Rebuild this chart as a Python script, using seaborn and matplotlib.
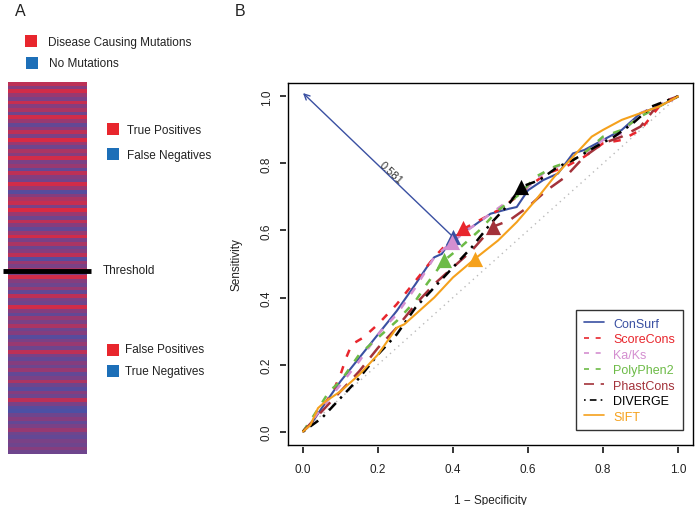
import numpy as np
import pandas as pd
import matplotlib
matplotlib.use("Agg")
import matplotlib.pyplot as plt
import matplotlib.transforms as mtransforms
from matplotlib.colors import LinearSegmentedColormap
from matplotlib.patches import Rectangle
import seaborn as sns

sns.set_theme(style="white")
plt.rcParams['font.family'] = ['Liberation Sans', 'DejaVu Sans']

# ---------------- data ----------------
# Panel A: stripe "redness" (1 = disease causing, 0 = no mutation), top to bottom
stripes_upper = [0.8, 0.5, 0.9, 0.6, 0.4, 0.85, 0.5, 0.7, 0.3, 0.9, 0.6, 0.2, 0.5, 0.8, 0.4,
                 0.95, 0.6, 0.3, 0.7, 0.5, 0.9, 0.4, 0.6, 0.2, 0.8, 0.5, 0.35, 0.9, 0.6, 0.1,
                 0.5, 0.7, 0.85, 0.4, 0.95, 0.6, 0.3, 0.8, 0.5, 0.2, 0.6, 0.9, 0.4, 0.7, 0.3,
                 0.5, 0.8, 0.1, 0.6, 0.4]
stripes_lower = [0.7, 0.4, 0.9, 0.5, 0.3, 0.6, 0.2, 0.8, 0.4, 0.3, 0.9, 0.5, 0.2, 0.6, 0.4,
                 0.7, 0.3, 0.5, 0.1, 0.4, 0.6, 0.3, 0.8, 0.4, 0.2, 0.5, 0.3, 0.6, 0.2, 0.4,
                 0.7, 0.3, 0.1, 0.5, 0.3, 0.8, 0.4, 0.1, 0.0, 0.3, 0.5, 0.2, 0.4, 0.6, 0.3,
                 0.2, 0.4, 0.3, 0.5, 0.3]

# Panel B: ROC curves (1 - specificity, sensitivity)
methods = ["ConSurf", "ScoreCons", "Ka/Ks", "PolyPhen2", "PhastCons", "DIVERGE", "SIFT"]
consurf_x = [0, 0.02, 0.05, 0.10, 0.15, 0.20, 0.25, 0.30, 0.33, 0.35, 0.37, 0.40, 0.45, 0.50, 0.55, 0.57, 0.60, 0.64, 0.68, 0.70, 0.72, 0.75, 0.80, 0.85, 0.90, 0.95, 1.0]
consurf_y = [0, 0.02, 0.07, 0.15, 0.22, 0.29, 0.36, 0.44, 0.49, 0.52, 0.53, 0.58, 0.61, 0.65, 0.665, 0.67, 0.72, 0.75, 0.77, 0.80, 0.83, 0.84, 0.87, 0.90, 0.95, 0.97, 1.0]
scorecons_x = [0, 0.05, 0.08, 0.10, 0.115, 0.13, 0.16, 0.20, 0.25, 0.30, 0.35, 0.40, 0.43, 0.47, 0.52, 0.57, 0.60, 0.65, 0.70, 0.75, 0.80, 0.85, 0.90, 0.95, 1.0]
scorecons_y = [0, 0.07, 0.12, 0.17, 0.22, 0.26, 0.28, 0.32, 0.38, 0.45, 0.52, 0.58, 0.606, 0.63, 0.66, 0.70, 0.73, 0.77, 0.79, 0.82, 0.86, 0.87, 0.90, 0.97, 1.0]
kaks_x = [0, 0.05, 0.10, 0.15, 0.20, 0.25, 0.30, 0.35, 0.398, 0.45, 0.50, 0.55, 0.60, 0.65, 0.70, 0.75, 0.80, 0.85, 0.90, 1.0]
kaks_y = [0, 0.07, 0.14, 0.21, 0.29, 0.35, 0.43, 0.52, 0.566, 0.61, 0.65, 0.69, 0.73, 0.78, 0.80, 0.83, 0.87, 0.89, 0.95, 1.0]
polyphen_x = [0, 0.03, 0.07, 0.10, 0.15, 0.20, 0.25, 0.30, 0.33, 0.377, 0.42, 0.47, 0.52, 0.58, 0.62, 0.67, 0.72, 0.76, 0.80, 0.85, 0.90, 1.0]
polyphen_y = [0, 0.05, 0.12, 0.15, 0.23, 0.28, 0.33, 0.39, 0.44, 0.511, 0.55, 0.60, 0.66, 0.71, 0.76, 0.79, 0.81, 0.84, 0.88, 0.90, 0.94, 1.0]
phast_x = [0, 0.05, 0.10, 0.15, 0.20, 0.25, 0.30, 0.35, 0.40, 0.45, 0.506, 0.55, 0.60, 0.65, 0.70, 0.75, 0.80, 0.85, 0.90, 0.95, 1.0]
phast_y = [0, 0.06, 0.12, 0.18, 0.25, 0.31, 0.38, 0.44, 0.49, 0.54, 0.611, 0.63, 0.67, 0.72, 0.76, 0.82, 0.86, 0.88, 0.91, 0.98, 1.0]
diverge_x = [0, 0.05, 0.10, 0.15, 0.20, 0.25, 0.30, 0.35, 0.40, 0.45, 0.50, 0.55, 0.581, 0.63, 0.68, 0.72, 0.78, 0.83, 0.88, 0.93, 1.0]
diverge_y = [0, 0.04, 0.10, 0.16, 0.23, 0.29, 0.37, 0.43, 0.49, 0.55, 0.62, 0.68, 0.73, 0.75, 0.79, 0.81, 0.85, 0.88, 0.92, 0.97, 1.0]
sift_x = [0, 0.02, 0.04, 0.06, 0.10, 0.15, 0.20, 0.25, 0.27, 0.30, 0.35, 0.40, 0.459, 0.52, 0.57, 0.62, 0.67, 0.72, 0.77, 0.80, 0.85, 0.90, 0.95, 1.0]
sift_y = [0, 0.02, 0.07, 0.09, 0.12, 0.17, 0.23, 0.31, 0.32, 0.35, 0.40, 0.46, 0.516, 0.57, 0.625, 0.69, 0.76, 0.82, 0.88, 0.90, 0.93, 0.95, 0.97, 1.0]

# threshold points (triangles)
thr_x = [0.40, 0.426, 0.398, 0.377, 0.506, 0.581, 0.459]
thr_y = [0.581, 0.606, 0.566, 0.511, 0.611, 0.730, 0.516]

ticks = [0.0, 0.2, 0.4, 0.6, 0.8, 1.0]
tick_labels = ["0.0", "0.2", "0.4", "0.6", "0.8", "1.0"]

curves_x = [consurf_x, scorecons_x, kaks_x, polyphen_x, phast_x, diverge_x, sift_x]
curves_y = [consurf_y, scorecons_y, kaks_y, polyphen_y, phast_y, diverge_y, sift_y]

colors = ["#3a50a2", "#e8262d", "#d48fd0", "#6dbb47", "#a3323a", "#000000", "#f5a11c"]
styles = ["-", (0, (3, 4)), (0, (3, 4)), (0, (3, 4)), (0, (6, 4)), (0, (1, 2.5, 4, 2.5)), "-"]

# ---------------- figure ----------------
W, H = 697, 506
fig = plt.figure(figsize=(W / 100, H / 100), dpi=100)

def fbox(x0, y0, x1, y1):
    return [x0 / W, 1 - y1 / H, (x1 - x0) / W, (y1 - y0) / H]

# Panel A stripe bar via seaborn heatmap
axA = fig.add_axes(fbox(8, 83, 87, 455))
cmap = LinearSegmentedColormap.from_list("rb", ["#4c50a4", "#853d7e", "#e3283c"])
stripes = np.array(stripes_upper + stripes_lower)[:, None]
sns.heatmap(stripes, ax=axA, cmap=cmap, vmin=0, vmax=1, cbar=False,
            xticklabels=False, yticklabels=False)
axA.set_axis_off()

# Panel B ROC
AX_L, AX_T, AX_R, AX_B = 288, 84, 693, 446
ax = fig.add_axes(fbox(AX_L, AX_T, AX_R, AX_B))
ax.plot([0, 1], [0, 1], color="#bbbbbb", linestyle=(0, (1, 3)), linewidth=1)
for m, xs, ys, c, ls in zip(methods, curves_x, curves_y, colors, styles):
    df = pd.DataFrame({"x": xs, "y": ys})
    sns.lineplot(data=df, x="x", y="y", ax=ax, color=c, linestyle=ls,
                 linewidth=1.5 if ls == "-" else 1.8, estimator=None, sort=False, label=m)
for xx, yy, c in zip(thr_x, thr_y, colors):
    ax.scatter([xx], [yy], marker="^", s=120, color=c, zorder=5, linewidths=0)

ax.annotate("", xy=(0, 1.01), xytext=(thr_x[0], thr_y[0]),
            arrowprops=dict(arrowstyle="->", color="#3a50a2", lw=1, mutation_scale=10,
                            shrinkA=0, shrinkB=0))
ax.text(0.235, 0.775, "0.581", rotation=-43, fontsize=8, color="#333333",
        ha="center", va="center")

ax.set_xlim(-0.04, 1.04)
ax.set_ylim(-0.04, 1.04)
ax.set_xticks(ticks)
ax.set_yticks(ticks)
ax.tick_params(length=0, labelsize=8.5, labelcolor="#222222")
ax.tick_params(axis="x", pad=13)
ax.tick_params(axis="y", pad=11, labelrotation=90)
ax.set_xticklabels(tick_labels)
ax.set_yticklabels(tick_labels, va="center")

# R-style tick marks, slightly detached from the box
axw, axh = AX_R - AX_L, AX_B - AX_T
xtr = mtransforms.blended_transform_factory(ax.transData, ax.transAxes)
ytr = mtransforms.blended_transform_factory(ax.transAxes, ax.transData)
ax.vlines(ticks, -8 / axh, -2 / axh, transform=xtr, colors="black", lw=1.1, clip_on=False)
ax.hlines(ticks, -8 / axw, -2 / axw, transform=ytr, colors="black", lw=1.1, clip_on=False)

for s in ax.spines.values():
    s.set_visible(True)
    s.set_color("black")
    s.set_linewidth(1)
ax.set_xlabel("1 \u2212 Specificity", fontsize=8.5, labelpad=14, color="#222222")
ax.set_ylabel("Sensitivity", fontsize=8.5, labelpad=13, color="#222222")
ax.grid(False)

leg = ax.legend(loc="lower right", bbox_to_anchor=(0.975, 0.041), borderaxespad=0,
                fontsize=9, frameon=True, fancybox=False, edgecolor="black",
                handlelength=1.6, handletextpad=0.8, labelspacing=0.28,
                borderpad=0.6)
leg.get_frame().set_linewidth(1)
for t, c in zip(leg.get_texts(), colors):
    t.set_color(c)
for h in leg.get_lines():
    h.set_linewidth(1.2)

# overlay for panel A annotations and panel labels
ov = fig.add_axes([0, 0, 1, 1], zorder=10)
ov.set_xlim(0, W)
ov.set_ylim(H, 0)
ov.set_axis_off()
ov.patch.set_alpha(0)

red_sq, blue_sq = "#e8262d", "#1d6fb8"
def square(x, y, c):
    ov.add_patch(Rectangle((x, y), 12, 12, color=c, lw=0))

square(25, 36, red_sq)
ov.text(48, 42.5, "Disease Causing Mutations", fontsize=8.5, va="center", color="#222222")
square(26, 58, blue_sq)
ov.text(49, 64, "No Mutations", fontsize=8.5, va="center", color="#222222")

square(107, 124, red_sq)
ov.text(127, 131, "True Positives", fontsize=8.5, va="center", color="#222222")
square(107, 149, blue_sq)
ov.text(127, 155.5, "False Negatives", fontsize=8.5, va="center", color="#222222")

ov.plot([3, 91], [271.5, 271.5], color="black", lw=3.5, solid_capstyle="butt")
ov.text(103, 271, "Threshold", fontsize=8.5, va="center", color="#222222")

square(107, 345, red_sq)
ov.text(125, 350, "False Positives", fontsize=8.5, va="center", color="#222222")
square(107, 366, blue_sq)
ov.text(125, 371.5, "True Negatives", fontsize=8.5, va="center", color="#222222")

ov.text(15, 11, "A", fontsize=11.5, va="center", ha="left", color="#222222")
ov.text(235, 11, "B", fontsize=11.5, va="center", ha="left", color="#222222")

fig.savefig("out.png", dpi=100)
